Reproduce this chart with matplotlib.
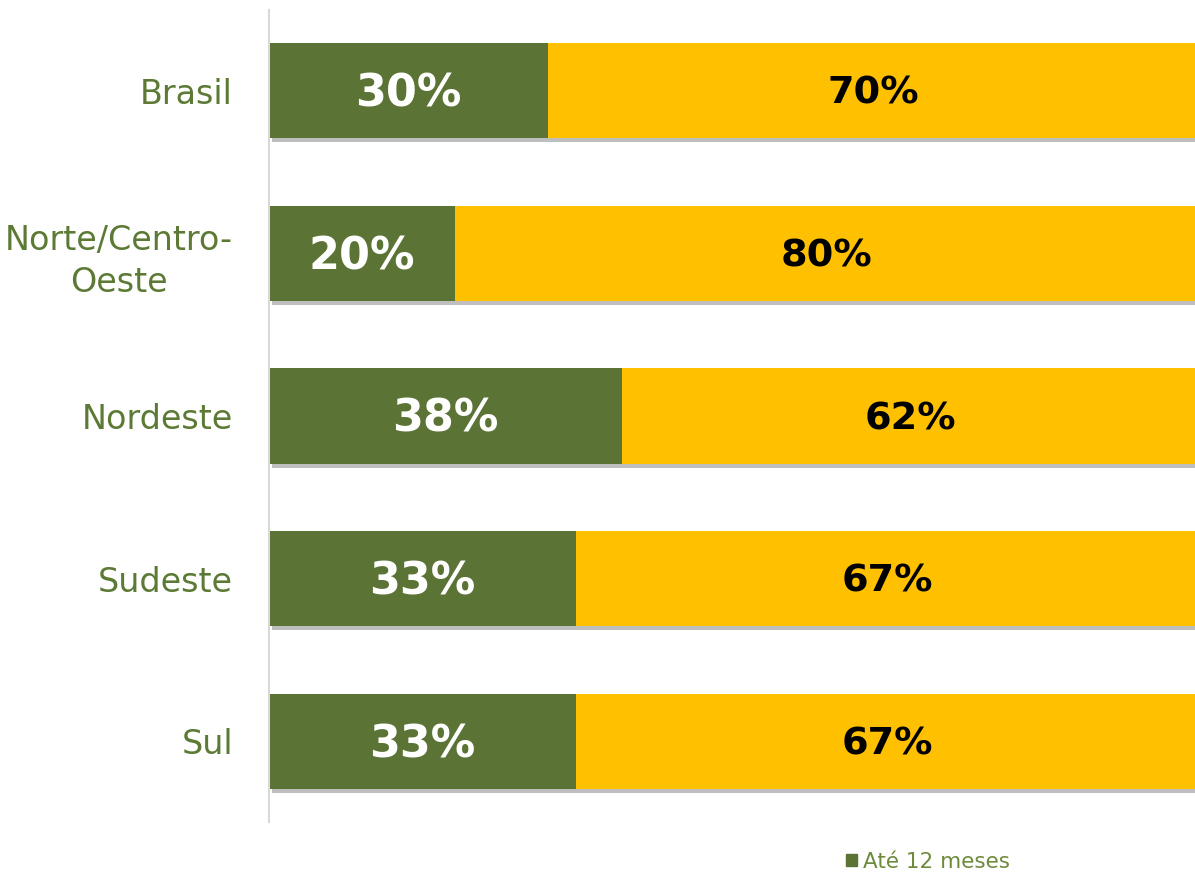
import matplotlib.pyplot as plt
import matplotlib.patheffects as pe
from matplotlib.patches import Patch
import numpy as np

regioes = ["Brasil", "Norte/Centro-\nOeste", "Nordeste", "Sudeste", "Sul"]
ate_12 = [30, 20, 38, 33, 33]
mais_12 = [70, 80, 62, 67, 67]

verde = "#5B7335"
amarelo = "#FFC000"

fig = plt.figure(figsize=(11.95, 8.73), dpi=100)
ax = fig.add_axes([269 / 1195, 51 / 873, 1 - 269 / 1195, 812 / 873])

y = np.arange(len(regioes))
sombra = [pe.SimplePatchShadow(offset=(2, -3), shadow_rgbFace="#7f7f7f", alpha=0.5), pe.Normal()]

ax.barh(y, ate_12, height=0.584, color=verde, path_effects=sombra)
ax.barh(y, mais_12, left=ate_12, height=0.584, color=amarelo, path_effects=sombra)

for i in range(len(regioes)):
    ax.text(ate_12[i] / 2, y[i] + 0.02, "%d%%" % ate_12[i], ha="center", va="center",
            color="white", fontsize=32, fontweight="bold")
    ax.text(ate_12[i] + mais_12[i] / 2, y[i] + 0.02, "%d%%" % mais_12[i], ha="center", va="center",
            color="black", fontsize=27.5, fontweight="bold")

ax.set_xlim(0, 99.57)
ax.set_ylim(4.495, -0.495)
ax.set_yticks(y)
ax.set_yticklabels(regioes, fontsize=24, color="#5C7A35")
for lbl in ax.get_yticklabels():
    lbl.set_multialignment("center")
    lbl.set_linespacing(1.35)
ax.tick_params(axis="y", length=0, pad=26)
ax.set_xticks([])
for s in ["top", "right", "bottom"]:
    ax.spines[s].set_visible(False)
ax.spines["left"].set_color("#D9D9D9")
ax.spines["left"].set_linewidth(1.5)

leg = fig.legend(handles=[Patch(color=verde, label="Até 12 meses")], loc="center left",
                 bbox_to_anchor=(846 / 1195, 1 - 862 / 873),
                 frameon=False, fontsize=15.5, handlelength=0.5, handleheight=0.5,
                 handletextpad=0.3, borderpad=0, borderaxespad=0)
for t in leg.get_texts():
    t.set_color("#6E8B3D")

fig.savefig("out.png", dpi=100)
